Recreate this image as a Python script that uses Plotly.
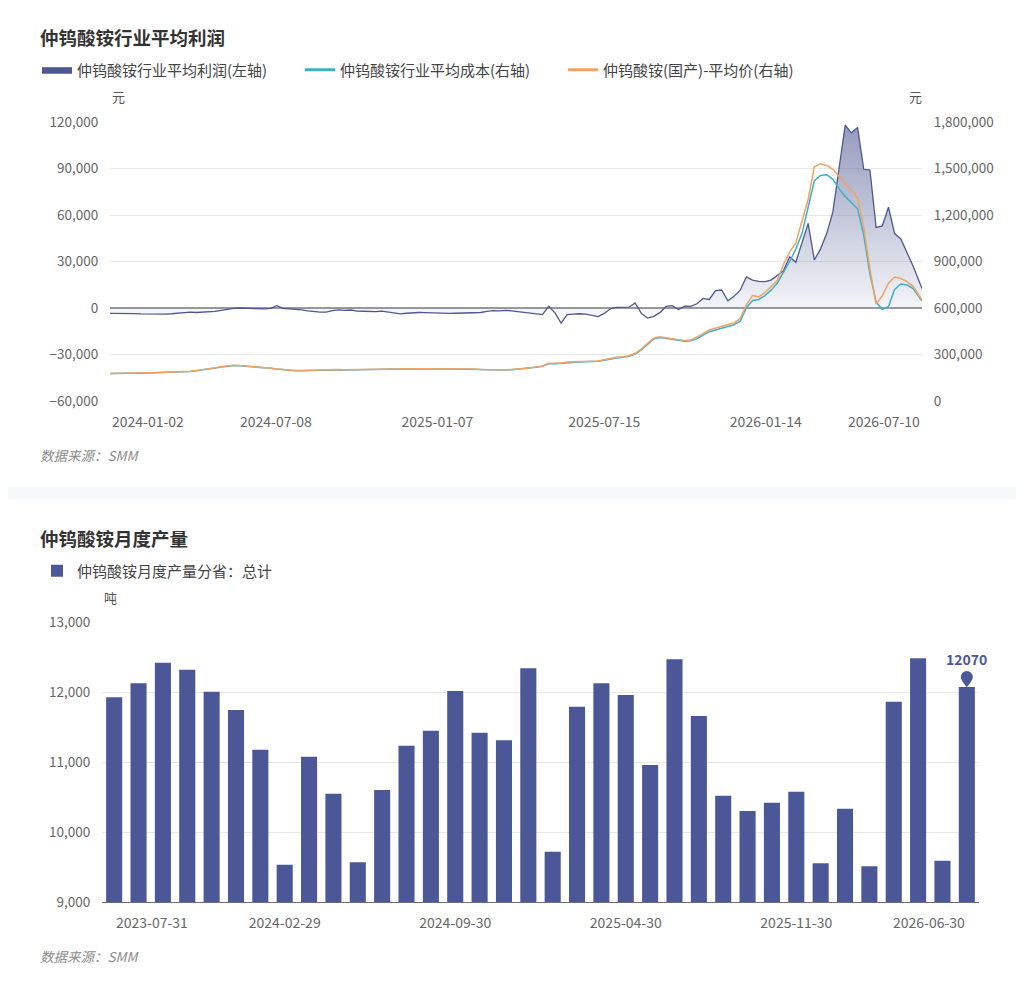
import pandas as pd
import plotly.graph_objects as go

# page body keeps its 8px margin, so the figure is sized to fit inside the window
PAGE_W, PAGE_H = 1024, 997
OFF = 8
W, H = PAGE_W - 2 * OFF, PAGE_H - 2 * OFF


def px(x):
    return (x - OFF) / W


def py(y):
    return 1 - (y - OFF) / H


FONT = "Noto Sans CJK SC"

# ---- top chart: weekly profit / cost / price ----
week_dates = list(pd.date_range("2024-01-02", periods=131, freq="7D").strftime("%Y-%m-%d")) + ["2026-07-10"]

profit = [
    -3500, -3500, -3300, -3400, -3600, -3800, -3900, -4000, -4000, -3900, -3700, -3300,
    -3000, -2600, -2900, -2700, -2400, -2200, -1500, -800, -300,
    0, -200, -300, -500, -600, -200, 1500, -300, -500, -800,
    -1200, -1800, -2300, -2600, -2700, -1700, -1200, -1500, -1300, -2000, -2100,
    -2200, -2400, -2000, -2500, -3200, -3800, -3400, -3000, -2900, -3000,
    -3200, -3400, -3300, -3500, -3400, -3300, -3400, -3100, -2900, -2200,
    -1700, -1800, -1500, -1800, -2300, -2700, -3100, -3600, -4300, 1100,
    -3000, -9700, -4300, -4000, -3700, -4000, -5000, -5600, -3500, -500,
    400, 300, 500, 3200, -3500, -6500, -5400, -3000, 1000, 1500,
    -1000, 1200, 1000, 2700, 6200, 5500, 11200, 11600, 4700, 7500,
    11500, 20000, 18000, 17200, 17000, 18000, 21000, 24000, 33000, 29500,
    42000, 54600, 31000, 38000, 48000, 62000, 90000, 118000, 113000, 116500,
    89500, 89000, 52000, 53000, 65000, 48000, 44500, 36000, 27000, 12500,
]

cost = [
    177000, 177000, 178000, 178000, 179000, 180000, 181000, 182000, 183000, 184000, 185000, 187000,
    189000, 191000, 195000, 200000, 206000, 213000, 220000, 226000, 229000,
    228000, 225000, 223000, 220000, 216000, 211000, 206000, 201000, 197000, 195000,
    195000, 196000, 198000, 200000, 202000, 203000, 202000, 200000, 201000, 203000, 204000,
    204000, 205000, 205000, 206000, 206000, 206000, 206000, 207000, 207000, 207000,
    208000, 208000, 208000, 207000, 207000, 207000, 206000, 205000, 203000, 201000,
    200000, 200000, 200000, 202000, 205000, 209000, 213000, 218000, 224000, 240000,
    240000, 243000, 250000, 251000, 252000, 253000, 254000, 256000, 263000, 272000,
    278000, 282000, 288000, 303000, 330000, 365000, 400000, 410000, 406000, 398000,
    392000, 386000, 388000, 402000, 425000, 447000, 458000, 468000, 480000, 492000,
    515000, 600000, 648000, 655000, 680000, 715000, 760000, 830000, 900000, 980000,
    1080000, 1250000, 1420000, 1455000, 1460000, 1430000, 1370000, 1320000, 1280000, 1240000,
    1070000, 820000, 640000, 590000, 610000, 720000, 755000, 748000, 725000, 645000,
]

price = [
    178000, 178000, 179000, 179000, 180000, 181000, 182000, 183000, 184000, 185000, 186000, 188000,
    190000, 192000, 196000, 201000, 207000, 214000, 221000, 227000, 230000,
    229000, 226000, 224000, 221000, 217000, 212000, 207000, 202000, 198000, 196000,
    196000, 197000, 199000, 201000, 203000, 204000, 203000, 201000, 202000, 204000, 205000,
    205000, 206000, 206000, 207000, 207000, 207000, 207000, 208000, 208000, 208000,
    209000, 209000, 209000, 208000, 208000, 208000, 207000, 206000, 204000, 202000,
    201000, 201000, 201000, 203000, 206000, 210000, 214000, 219000, 225000, 243000,
    242000, 245000, 252000, 253000, 254000, 255000, 256000, 258000, 266000, 276000,
    282000, 286000, 292000, 308000, 335000, 372000, 405000, 414000, 410000, 402000,
    396000, 390000, 393000, 412000, 435000, 458000, 470000, 480000, 492000, 505000,
    532000, 620000, 680000, 672000, 700000, 735000, 776000, 880000, 960000, 1020000,
    1160000, 1300000, 1510000, 1530000, 1520000, 1495000, 1450000, 1400000, 1360000, 1310000,
    1120000, 850000, 625000, 680000, 760000, 800000, 790000, 770000, 740000, 650000,
]

top_ticks = ["2024-07-08", "2025-01-07", "2025-07-15", "2026-01-14"]

# ---- bottom chart: monthly output ----
months = list(pd.date_range("2023-07-31", periods=36, freq="ME").strftime("%Y-%m-%d"))
output = [
    11924, 12124, 12419, 12319, 12005, 11743, 11176, 9533, 11076, 10548, 9567, 10600,
    11233, 11448, 12014, 11419, 11310, 12340, 9719, 11790, 12124, 11957, 10957, 12467,
    11657, 10519, 10300, 10419, 10576, 9552, 10333, 9510, 11862, 12481, 9590, 12070,
]
bottom_ticks = [months[7], months[14], months[21], months[28]]

PROFIT_COLOR = "#4e5891"
COST_COLOR = "#3cb1c6"
PRICE_COLOR = "#f2a263"
BAR_COLOR = "#4b5797"

names = ["仲钨酸铵行业平均利润(左轴)", "仲钨酸铵行业平均成本(右轴)", "仲钨酸铵(国产)-平均价(右轴)"]

fig = go.Figure()

fig.add_trace(go.Scatter(
    x=week_dates, y=profit, name=names[0], mode="lines",
    line=dict(color=PROFIT_COLOR, width=1.3),
    fill="tozeroy",
    fillgradient=dict(type="vertical",
                      colorscale=[[0, "rgba(78,88,145,0.02)"], [1, "rgba(78,88,145,0.6)"]]),
    xaxis="x", yaxis="y", showlegend=False,
))
fig.add_trace(go.Scatter(
    x=week_dates, y=cost, name=names[1], mode="lines",
    line=dict(color=COST_COLOR, width=1.5), xaxis="x", yaxis="y2", showlegend=False,
))
fig.add_trace(go.Scatter(
    x=week_dates, y=price, name=names[2], mode="lines",
    line=dict(color=PRICE_COLOR, width=1.5), xaxis="x", yaxis="y2", showlegend=False,
))

# legend entries with solid icons, like the original chart
fig.add_trace(go.Scatter(
    x=[None], y=[None], name=names[0], mode="lines", fill="tozeroy",
    fillcolor=PROFIT_COLOR, line=dict(color=PROFIT_COLOR, width=1),
    xaxis="x", yaxis="y", legend="legend",
))
for nm, col in [(names[1], COST_COLOR), (names[2], PRICE_COLOR)]:
    fig.add_trace(go.Scatter(
        x=[None], y=[None], name=nm, mode="lines", line=dict(color=col, width=3),
        xaxis="x", yaxis="y2", legend="legend",
    ))

fig.add_trace(go.Bar(
    x=months, y=output, name="仲钨酸铵月度产量分省：总计",
    marker=dict(color=BAR_COLOR, line=dict(width=0)),
    xaxis="x2", yaxis="y3", legend="legend2",
))
# pin marker above the latest bar (ECharts markPoint look)
fig.add_trace(go.Scatter(
    x=[months[-1], months[-1]], y=[output[-1] + 55, output[-1] + 145],
    mode="markers",
    marker=dict(symbol=["triangle-down", "circle"], size=[8, 12], color=BAR_COLOR,
                opacity=1, line=dict(width=0)),
    xaxis="x2", yaxis="y3", showlegend=False, cliponaxis=False, hoverinfo="skip",
))

tickfont = dict(family=FONT, size=13.5, color="#666666")
hidden_tick = dict(ticks="outside", ticklen=8, tickcolor="rgba(0,0,0,0)")

fig.update_layout(
    width=W, height=H,
    margin=dict(l=0, r=0, t=0, b=0, autoexpand=False),
    paper_bgcolor="#f7f8f9",
    plot_bgcolor="rgba(0,0,0,0)",
    font=dict(family=FONT, color="#444444"),
    showlegend=True,
    bargap=0.34,
    xaxis=dict(
        domain=[px(110), px(922)], anchor="y", type="date",
        range=[week_dates[0], week_dates[-1]],
        tickvals=top_ticks, ticktext=top_ticks,
        showgrid=False, showline=False, zeroline=False,
        tickfont=dict(family=FONT, size=14, color="#666666"), **hidden_tick,
    ),
    yaxis=dict(
        domain=[py(401), py(122)], anchor="x",
        range=[-60000, 120000], dtick=30000, tickformat=",",
        gridcolor="#e8e8e8", gridwidth=1,
        zeroline=True, zerolinecolor="#9a9a9a", zerolinewidth=1.5,
        showline=False, tickfont=tickfont, **hidden_tick,
    ),
    yaxis2=dict(
        overlaying="y", side="right", anchor="x",
        range=[0, 1800000], dtick=300000, tickformat=",",
        showgrid=False, zeroline=False, showline=False,
        tickfont=tickfont, **hidden_tick,
    ),
    xaxis2=dict(
        domain=[px(102), px(979)], anchor="y3", type="category",
        range=[-0.5, len(months) - 0.5],
        tickvals=bottom_ticks, ticktext=bottom_ticks,
        showgrid=False, zeroline=False,
        showline=True, linecolor="#6e7079", linewidth=1,
        tickfont=dict(family=FONT, size=14, color="#666666"), **hidden_tick,
    ),
    yaxis3=dict(
        domain=[py(902), py(622)], anchor="x2",
        range=[9000, 13000], dtick=1000, tickformat=",",
        gridcolor="#e8e8e8", zeroline=False, showline=False,
        tickfont=tickfont, **hidden_tick,
    ),
    legend=dict(
        orientation="h", x=px(37), y=py(70), xanchor="left", yanchor="middle",
        font=dict(family=FONT, size=15, color="#444444"),
        bgcolor="rgba(0,0,0,0)", entrywidth=218, itemwidth=30,
    ),
    legend2=dict(
        orientation="h", x=px(37), y=py(571), xanchor="left", yanchor="middle",
        font=dict(family=FONT, size=15, color="#444444"),
        bgcolor="rgba(0,0,0,0)", itemwidth=30,
    ),
    shapes=[
        dict(type="rect", xref="paper", yref="paper", x0=0, x1=1, y0=py(487), y1=1,
             fillcolor="white", line=dict(width=0), layer="below"),
        dict(type="rect", xref="paper", yref="paper", x0=0, x1=1, y0=0, y1=py(499),
             fillcolor="white", line=dict(width=0), layer="below"),
    ],
)

ann = []


def text(x, y, s, size=13, color="#555555", xanchor="left", bold=False, italic=False):
    if bold:
        s = "<b>" + s + "</b>"
    if italic:
        s = "<i>" + s + "</i>"
    ann.append(dict(x=px(x), y=py(y), xref="paper", yref="paper", text=s, showarrow=False,
                    xanchor=xanchor, yanchor="middle",
                    font=dict(family=FONT, size=size, color=color)))


text(38, 37, "仲钨酸铵行业平均利润", size=18.5, color="#333333", bold=True)
text(38, 538, "仲钨酸铵月度产量", size=18.5, color="#333333", bold=True)
text(118, 97, "元", size=13, xanchor="center")
text(915, 97, "元", size=13, xanchor="center")
text(110, 597, "吨", size=13, xanchor="center")
text(38, 455, "数据来源：SMM", size=13.5, color="#8c8c8c", italic=True)
text(38, 956, "数据来源：SMM", size=13.5, color="#8c8c8c", italic=True)

# first / last category labels, aligned to the axis ends
for xv, anchor in [(week_dates[0], "left"), (week_dates[-1], "right")]:
    ann.append(dict(x=xv, y=0, xref="x", yref="y domain", text=xv, showarrow=False,
                    xanchor=anchor, yanchor="top", yshift=-8,
                    font=dict(family=FONT, size=14, color="#666666")))
for xv, anchor in [(months[0], "left"), (months[-1], "right")]:
    ann.append(dict(x=xv, y=0, xref="x2", yref="y3 domain", text=xv, showarrow=False,
                    xanchor=anchor, yanchor="top", yshift=-8,
                    font=dict(family=FONT, size=14, color="#666666")))

# value label of the latest bar
ann.append(dict(x=months[-1], y=output[-1], xref="x2", yref="y3", text="<b>%d</b>" % output[-1],
                showarrow=False, xanchor="center", yanchor="bottom", yshift=16,
                font=dict(family=FONT, size=14, color=BAR_COLOR)))

fig.update_layout(annotations=ann)

fig.write_html("out.html")
